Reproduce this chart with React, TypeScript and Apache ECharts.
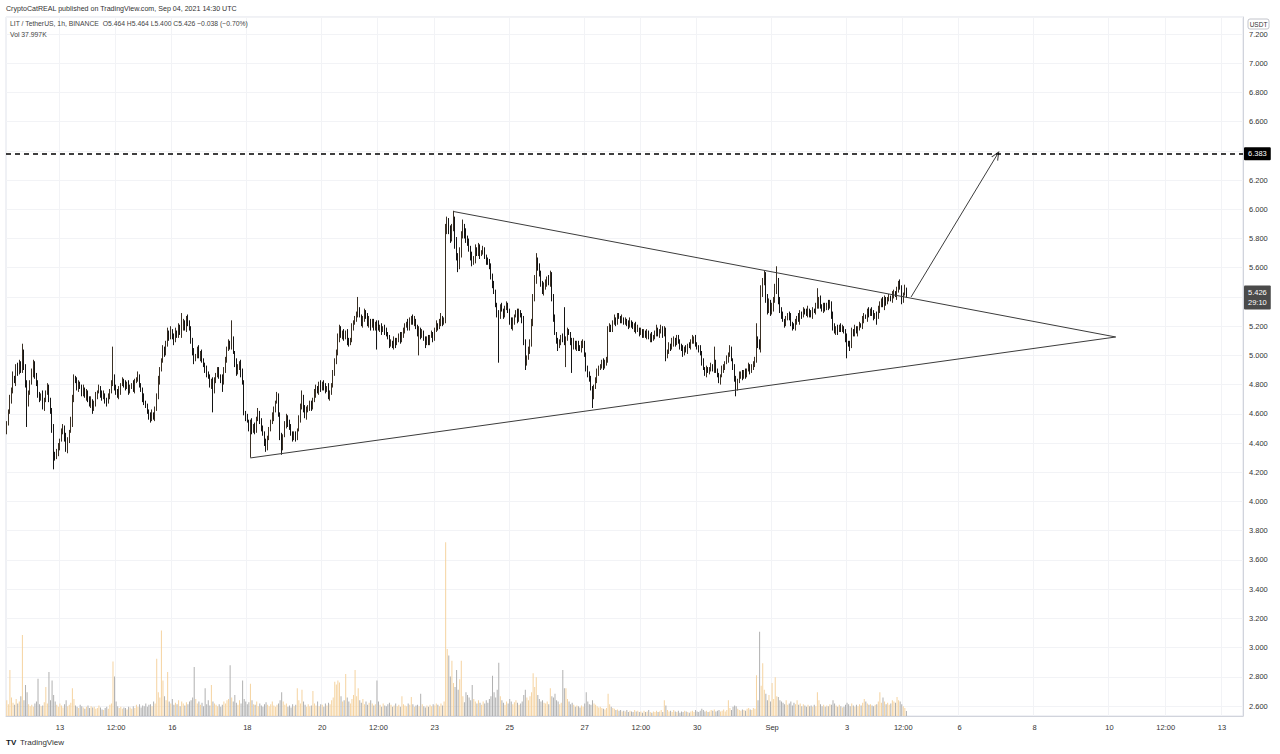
import React, { useEffect, useRef } from "react";
import * as echarts from "echarts";

// ---------- data (hourly candles, LIT/USDT, Binance) ----------
const FIRST_OPEN = 4.49;

const closes = [
  4.53,4.62,4.70,4.76,4.85,4.82,4.92,4.88,4.95,4.90,5.02,4.93,4.80,4.67,4.74,4.82,
  4.88,4.95,4.86,4.80,4.74,4.70,4.72,4.65,4.70,4.74,4.78,4.70,4.62,4.50,4.33,4.30,4.34,4.37,4.42,4.48,
  4.51,4.44,4.35,4.42,4.48,4.54,4.70,4.85,4.82,4.78,4.81,4.78,4.74,4.77,4.72,4.75,4.70,4.66,4.69,4.63,
  4.67,4.72,4.75,4.78,4.74,4.71,4.73,4.69,4.68,4.72,4.76,4.80,4.85,4.79,4.75,4.72,4.76,4.80,4.83,4.80,
  4.78,4.81,4.76,4.78,4.80,4.77,4.82,4.84,4.85,4.80,4.76,4.71,4.68,4.65,4.62,4.59,4.56,4.60,4.58,4.63,
  4.72,4.83,4.90,4.97,5.04,5.01,5.09,5.15,5.12,5.17,5.13,5.10,5.16,5.14,5.20,5.15,5.19,5.22,5.18,5.25,
  5.23,5.18,5.10,5.02,4.97,5.00,5.04,4.99,5.02,4.97,4.93,4.90,4.88,4.85,4.80,4.83,4.76,4.82,4.87,4.90,
  4.86,4.84,4.81,4.90,4.98,5.04,5.08,5.06,5.11,5.02,4.95,4.88,4.92,4.95,4.88,4.81,4.61,4.58,4.55,4.50,
  4.54,4.48,4.52,4.49,4.56,4.61,4.55,4.51,4.46,4.40,4.37,4.43,4.50,4.54,4.58,4.63,4.68,4.72,4.60,4.45,
  4.37,4.45,4.52,4.58,4.54,4.50,4.47,4.43,4.46,4.44,4.49,4.56,4.65,4.72,4.64,4.58,4.62,4.65,4.67,4.64,
  4.70,4.74,4.78,4.75,4.80,4.77,4.81,4.79,4.76,4.78,4.72,4.74,4.80,4.88,4.95,5.02,5.12,5.19,5.13,5.15,
  5.12,5.16,5.10,5.08,5.11,5.19,5.22,5.26,5.28,5.31,5.27,5.22,5.24,5.30,5.27,5.21,5.24,5.20,5.23,5.19,
  5.22,5.21,5.18,5.20,5.17,5.19,5.16,5.15,5.12,5.08,5.09,5.06,5.10,5.08,5.11,5.13,5.10,5.15,5.17,5.20,
  5.22,5.19,5.24,5.26,5.22,5.24,5.19,5.16,5.18,5.13,5.15,5.12,5.08,5.11,5.09,5.13,5.15,5.12,5.17,5.21,
  5.19,5.23,5.26,5.22,5.24,5.86,5.92,5.85,5.81,5.87,5.93,5.78,5.68,5.61,5.70,5.82,5.88,5.84,5.80,5.77,
  5.73,5.68,5.63,5.66,5.72,5.70,5.74,5.69,5.71,5.72,5.68,5.65,5.63,5.61,5.55,5.48,5.43,5.35,5.29,5.27,
  5.33,5.31,5.28,5.32,5.34,5.31,5.24,5.19,5.23,5.27,5.29,5.25,5.30,5.27,5.24,5.10,4.95,4.98,5.03,5.09,
  5.22,5.38,5.52,5.65,5.60,5.56,5.50,5.43,5.47,5.50,5.52,5.49,5.56,5.40,5.25,5.15,5.10,5.06,5.09,5.13,
  5.11,5.08,5.12,5.16,5.15,5.10,5.06,5.09,5.05,5.08,5.06,5.04,5.07,5.09,5.00,4.92,4.87,4.83,4.78,4.72,
  4.78,4.84,4.88,4.91,4.93,4.95,4.92,4.96,4.97,5.17,5.20,5.18,5.22,5.25,5.23,5.27,5.26,5.24,5.25,5.22,
  5.24,5.22,5.20,5.23,5.21,5.19,5.21,5.17,5.18,5.15,5.17,5.14,5.16,5.13,5.15,5.12,5.14,5.11,5.13,5.15,
  5.18,5.14,5.16,5.19,5.15,5.17,4.99,5.03,5.07,5.05,5.09,5.11,5.08,5.12,5.10,5.06,5.04,5.02,5.05,5.03,
  5.07,5.06,5.09,5.11,5.12,5.08,5.05,5.04,5.02,4.96,4.91,4.88,4.91,4.89,4.90,4.93,4.91,4.95,4.90,4.86,
  4.83,4.86,4.90,4.92,4.95,4.98,5.01,5.04,4.97,4.92,4.85,4.78,4.82,4.86,4.88,4.85,4.89,4.87,4.90,4.93,
  4.89,4.92,4.95,4.97,5.11,5.08,5.06,5.43,5.50,5.54,5.40,5.31,5.36,5.30,5.33,5.38,5.45,5.50,5.38,5.31,
  5.27,5.24,5.22,5.25,5.28,5.26,5.22,5.20,5.19,5.23,5.26,5.24,5.29,5.27,5.31,5.30,5.28,5.31,5.29,5.27,
  5.31,5.30,5.33,5.35,5.38,5.34,5.31,5.34,5.32,5.35,5.33,5.36,5.28,5.19,5.16,5.19,5.17,5.20,5.18,5.19,
  5.16,5.12,5.09,5.08,5.06,5.17,5.15,5.18,5.16,5.19,5.21,5.20,5.24,5.27,5.26,5.30,5.28,5.31,5.29,5.27,
  5.28,5.26,5.31,5.35,5.38,5.34,5.38,5.36,5.39,5.40,5.38,5.41,5.43,5.41,5.45,5.48,5.46,5.38,5.42,5.464,5.426,
];

// upper wick above max(open, close), in cents
const upperWicks = [
  2,1,3,2,4,1,2,3,2,1,6,2,1,3,2,1,
  3,2,1,2,3,1,2,4,1,2,3,2,1,2,3,1,2,3,1,2,
  2,1,3,2,1,4,3,2,1,3,2,1,2,3,1,2,1,2,3,1,
  2,3,1,2,1,2,3,1,2,2,1,3,21,2,1,2,3,1,2,1,
  3,1,2,2,1,3,2,1,4,2,1,2,3,1,2,1,2,3,1,2,
  2,3,2,1,3,2,1,4,2,3,1,2,3,1,2,1,10,3,2,2,
  3,1,2,2,3,1,2,3,1,2,1,2,3,1,2,1,2,3,1,2,
  2,1,3,2,1,2,3,2,13,2,1,3,2,1,2,3,2,1,2,1,
  2,3,1,2,2,3,1,2,1,2,3,2,1,2,3,2,1,3,2,1,
  2,1,3,2,1,2,3,1,2,2,1,3,2,4,1,2,3,1,2,2,
  1,3,2,1,2,3,1,2,2,1,3,2,1,2,3,2,3,2,1,2,
  3,1,2,2,1,3,2,1,2,9,2,1,3,2,1,2,3,1,2,2,
  1,2,3,1,2,1,2,3,1,2,2,1,3,2,1,2,3,1,2,2,
  1,3,2,1,2,3,1,2,2,1,3,2,1,2,3,1,2,1,2,3,
  1,2,3,1,2,4,3,2,4,3,6,2,3,2,4,3,5,2,3,2,
  3,2,3,2,4,2,3,2,1,3,2,1,2,3,2,1,3,2,1,2,
  2,3,1,2,3,2,1,2,3,1,2,3,2,1,2,3,1,2,3,2,
  3,4,3,5,2,3,2,1,3,2,2,3,2,1,2,3,1,2,2,1,
  2,22,1,3,2,1,2,3,1,2,2,1,3,2,1,2,1,2,3,1,
  2,1,3,2,1,2,3,1,2,3,2,1,2,3,1,2,2,1,3,1,
  2,1,2,3,1,2,1,2,3,1,2,1,2,1,3,2,1,2,1,2,
  3,1,2,2,1,3,2,1,2,1,3,2,1,2,2,1,2,3,1,2,
  1,2,2,3,1,2,1,2,3,1,2,1,2,1,2,2,1,11,2,1,
  2,1,3,2,1,2,1,3,2,1,2,1,2,3,1,2,1,2,1,2,
  1,2,1,2,11,2,3,5,3,4,3,2,3,2,3,2,4,11,3,2,
  2,3,1,2,1,2,3,1,2,2,1,3,2,1,2,1,2,3,1,2,
  2,1,3,11,2,3,1,2,2,1,3,2,1,2,3,1,2,1,2,2,
  1,2,3,1,2,2,1,3,2,1,2,1,3,2,1,2,3,1,2,2,
  1,2,3,2,1,2,3,2,1,2,1,3,2,1,2,3,4,2,1,2,0,
];

// lower wick below min(open, close), in cents
const lowerWicks = [
  3,1,2,3,2,1,3,2,1,2,2,3,2,16,2,1,
  2,3,2,1,3,2,1,2,3,2,1,2,2,3,11,2,1,3,2,1,
  2,3,1,2,2,1,3,2,1,2,3,1,2,2,1,3,2,1,2,3,
  1,2,2,1,3,2,1,2,3,1,2,2,1,3,2,1,2,3,1,2,
  2,1,3,2,1,2,3,1,2,2,1,3,2,1,2,3,2,1,2,3,
  1,2,3,1,2,2,1,3,2,1,2,3,1,2,2,1,3,2,1,2,
  3,1,2,2,3,1,2,1,3,2,1,2,3,1,2,3,15,2,1,2,
  2,3,6,1,2,3,1,2,2,1,3,2,1,2,3,1,2,3,1,2,
  20,2,1,3,2,1,2,3,1,2,3,2,1,2,1,3,2,1,2,3,
  5,2,1,2,3,1,2,2,1,3,2,1,2,2,3,1,2,1,3,2,
  1,2,3,1,2,2,1,3,2,1,2,3,1,2,2,1,2,3,1,2,
  2,1,3,2,1,2,2,1,3,2,1,2,3,1,2,1,2,3,1,2,
  2,17,1,2,3,1,2,2,1,3,2,1,2,3,1,2,2,1,3,2,
  1,2,2,3,1,2,1,3,16,2,1,2,3,1,2,2,1,3,2,1,
  2,1,3,2,1,2,3,2,4,3,2,5,3,4,2,3,2,4,3,2,
  2,3,2,1,3,2,2,3,1,2,2,3,1,2,3,2,1,2,3,32,
  2,1,3,2,1,2,3,1,2,2,1,3,2,1,2,3,5,2,1,2,
  3,2,1,3,2,2,3,1,2,2,3,1,2,3,2,1,2,3,1,2,
  2,1,16,2,1,3,18,2,1,2,3,1,2,2,1,3,2,1,2,8,
  2,1,3,2,1,2,2,1,3,2,1,2,2,1,3,2,1,2,2,1,
  1,2,2,1,2,1,3,2,1,2,1,2,2,1,2,1,3,2,1,2,
  2,1,2,1,3,2,3,1,2,2,1,3,2,1,2,2,1,3,2,1,
  2,1,2,1,3,2,1,2,2,3,1,2,3,1,2,1,2,3,2,1,
  2,3,1,2,2,1,3,2,1,2,3,6,2,1,2,2,1,3,2,1,
  2,1,2,3,2,3,2,4,3,2,4,3,2,3,2,3,2,3,3,2,
  2,1,3,2,1,2,2,3,1,2,2,1,3,2,1,2,1,2,3,1,
  2,1,2,1,3,2,1,2,2,1,2,1,3,2,1,2,3,1,2,2,
  1,3,11,2,3,1,2,2,1,3,2,1,2,2,1,3,2,1,2,3,
  2,5,1,2,2,1,3,2,1,2,1,2,2,1,3,2,1,3,2,1,3,
];

// volume per candle, thousands
const volumesK = [
  120,90,350,140,100,85,130,95,110,150,615,120,235,180,90,75,
  85,70,95,110,283,90,75,80,105,220,95,335,120,270,160,110,85,70,95,80,
  65,90,120,75,85,100,210,130,80,70,60,85,75,65,55,70,80,60,75,65,
  70,55,60,80,65,50,45,60,70,55,85,95,415,300,110,75,60,70,55,65,
  60,50,70,65,55,75,60,85,70,90,65,80,75,95,70,85,90,75,110,95,
  435,180,140,650,270,150,120,335,110,95,130,85,100,90,120,75,110,95,80,105,
  90,110,120,140,372,130,95,110,85,100,75,210,90,120,80,235,110,95,85,75,
  90,70,85,110,95,120,130,385,140,110,160,100,85,120,95,270,130,110,90,105,
  245,120,90,85,110,75,95,80,70,90,105,85,75,90,110,80,70,85,95,120,
  180,110,85,95,70,80,65,90,75,85,210,120,95,200,110,85,70,90,75,80,
  190,95,80,110,75,90,85,70,95,80,100,90,120,140,260,240,270,255,150,110,
  120,320,140,110,95,130,160,350,150,210,120,100,130,90,110,85,100,120,95,80,
  90,270,110,85,70,95,80,75,90,100,85,70,80,95,75,85,70,150,90,80,
  75,95,85,145,90,70,80,85,75,170,90,75,65,80,70,85,75,90,80,95,
  85,75,95,80,110,1320,510,460,300,420,250,220,350,200,280,420,150,105,180,160,
  140,120,235,130,110,95,120,100,85,110,95,120,100,130,150,305,180,140,200,405,
  150,120,100,85,110,95,130,110,90,105,120,100,85,95,110,160,200,140,120,150,
  180,325,220,295,160,130,110,120,100,95,110,90,210,150,140,170,120,110,90,100,
  350,210,210,130,110,90,100,85,70,80,75,65,80,70,95,180,110,90,85,120,
  95,85,75,65,70,60,55,50,60,170,90,70,60,55,45,50,40,45,35,40,
  35,45,30,40,35,30,45,35,40,30,35,25,40,30,35,45,30,25,35,30,
  40,30,35,45,30,120,80,45,35,40,30,45,35,30,40,25,35,30,40,35,
  30,25,35,40,30,45,35,30,40,55,45,35,40,30,35,45,40,50,35,40,
  45,35,40,50,35,45,120,60,45,70,80,75,55,45,40,50,45,40,55,60,
  50,45,60,55,310,120,640,230,400,200,170,120,160,110,250,130,295,150,145,120,
  110,100,90,120,85,95,110,80,100,90,120,85,95,75,90,80,70,85,75,80,
  70,85,75,180,120,90,75,85,70,80,75,90,85,120,95,80,70,85,75,65,
  70,85,100,90,75,95,80,70,85,75,90,80,100,130,110,95,85,90,80,75,
  85,90,110,180,100,140,110,90,100,85,95,120,110,100,145,120,110,90,75,60,38,
];

// time axis: first candle and number of hourly slots shown
const FIRST_CANDLE = "2021-08-11 14:00";
const AXIS_HOURS = 792;

const tickLabels: [string, string][] = [
  ["2021-08-13 00:00", "13"],
  ["2021-08-14 12:00", "12:00"],
  ["2021-08-16 00:00", "16"],
  ["2021-08-18 00:00", "18"],
  ["2021-08-20 00:00", "20"],
  ["2021-08-21 12:00", "12:00"],
  ["2021-08-23 00:00", "23"],
  ["2021-08-25 00:00", "25"],
  ["2021-08-27 00:00", "27"],
  ["2021-08-28 12:00", "12:00"],
  ["2021-08-30 00:00", "30"],
  ["2021-09-01 00:00", "Sep"],
  ["2021-09-03 00:00", "3"],
  ["2021-09-04 12:00", "12:00"],
  ["2021-09-06 00:00", "6"],
  ["2021-09-08 00:00", "8"],
  ["2021-09-10 00:00", "10"],
  ["2021-09-11 12:00", "12:00"],
  ["2021-09-13 00:00", "13"],
];

// drawings
const triangleUpper: [string, number][] = [["2021-08-23 12:00", 5.985], ["2021-09-10 04:00", 5.126]];
const triangleLower: [string, number][] = [["2021-08-18 02:00", 4.298], ["2021-09-10 04:00", 5.126]];
const targetArrow: [string, number][] = [["2021-09-04 17:00", 5.40], ["2021-09-07 00:00", 6.372]];
const targetLevel = 6.383;
const lastPrice = 5.426;
const countdown = "29:10";

const FONT = "'Liberation Sans', 'DejaVu Sans', sans-serif";

function fmtHour(ms: number): string {
  const d = new Date(ms);
  const p = (n: number) => String(n).padStart(2, "0");
  return `${d.getUTCFullYear()}-${p(d.getUTCMonth() + 1)}-${p(d.getUTCDate())} ${p(d.getUTCHours())}:00`;
}

function parseHour(s: string): number {
  const [date, time] = s.split(" ");
  const [y, m, d] = date.split("-").map(Number);
  const h = Number(time.split(":")[0]);
  return Date.UTC(y, m - 1, d, h);
}

export default function App() {
  const ref = useRef<HTMLDivElement>(null);

  useEffect(() => {
    document.body.style.margin = "0";
    if (!ref.current) return;
    const chart = echarts.init(ref.current, undefined, { renderer: "svg" });

    const start = parseHour(FIRST_CANDLE);
    const categories: string[] = [];
    for (let i = 0; i < AXIS_HOURS; i++) categories.push(fmtHour(start + i * 3600000));

    const labelMap: Record<string, string> = {};
    tickLabels.forEach(([t, l]) => (labelMap[t] = l));
    const tickIdx = new Set<number>();
    categories.forEach((c, i) => {
      if (labelMap[c] !== undefined) tickIdx.add(i);
    });

    const n = Math.min(closes.length, upperWicks.length, lowerWicks.length, volumesK.length);
    const ohlc: number[][] = [];
    const vols: any[] = [];
    for (let i = 0; i < n; i++) {
      const o = i === 0 ? FIRST_OPEN : closes[i - 1];
      const c = closes[i];
      const hi = Math.max(o, c) + upperWicks[i] / 100;
      const lo = Math.min(o, c) - lowerWicks[i] / 100;
      ohlc.push([o, c, lo, hi]);
      vols.push({
        value: volumesK[i],
        itemStyle: { color: c >= o ? "#f5d3a0" : "#b0b0b0" },
      });
    }

    const hiddenPriceLabels = [6.4, 5.4];

    const thin = { color: "#3c3c3c", width: 1, type: "solid" as const };

    chart.setOption({
      animation: false,
      backgroundColor: "#ffffff",
      textStyle: { fontFamily: FONT },
      grid: [
        { left: 6, right: 37, top: 17, bottom: 38, show: true, borderColor: "#e0e3eb", borderWidth: 1 },
        { left: 6, right: 37, top: 541, bottom: 38 },
      ],
      xAxis: [
        {
          type: "category",
          gridIndex: 0,
          data: categories,
          boundaryGap: true,
          axisLine: { show: true, lineStyle: { color: "#d1d4dc" } },
          axisTick: { show: false },
          axisLabel: {
            interval: (i: number) => tickIdx.has(i),
            formatter: (v: string) => labelMap[v] ?? "",
            fontSize: 7.5,
            color: "#333",
            margin: 7,
            fontFamily: FONT,
          },
          splitLine: {
            show: true,
            interval: (i: number) => tickIdx.has(i),
            lineStyle: { color: "#f2f3f6" },
          },
        },
        {
          type: "category",
          gridIndex: 1,
          data: categories,
          boundaryGap: true,
          show: false,
        },
      ],
      yAxis: [
        {
          type: "value",
          gridIndex: 0,
          position: "right",
          min: 2.5316,
          max: 7.3164,
          splitNumber: 24,
          minInterval: 0.2,
          maxInterval: 0.2,
          axisLine: { show: true, lineStyle: { color: "#d1d4dc" } },
          axisTick: { show: false },
          axisLabel: {
            fontSize: 7.5,
            color: "#333",
            margin: 6,
            fontFamily: FONT,
            showMinLabel: false,
            showMaxLabel: false,
            formatter: (v: number) =>
              hiddenPriceLabels.some((h) => Math.abs(h - v) < 1e-6) ? "" : v.toFixed(3),
          },
          splitLine: { show: true, lineStyle: { color: "#f2f3f6" } },
        },
        {
          type: "value",
          gridIndex: 1,
          min: 0,
          max: 1330,
          show: false,
          splitLine: { show: false },
        },
      ],
      series: [
        {
          type: "bar",
          xAxisIndex: 1,
          yAxisIndex: 1,
          data: vols,
          barWidth: 1,
          z: 1,
          silent: true,
        },
        {
          type: "candlestick",
          xAxisIndex: 0,
          yAxisIndex: 0,
          data: ohlc,
          barWidth: 1,
          z: 3,
          silent: true,
          itemStyle: {
            color: "#a8906a",
            color0: "#141414",
            borderColor: "#3a3024",
            borderColor0: "#141414",
            borderWidth: 1,
          },
          markLine: {
            silent: true,
            animation: false,
            symbol: ["none", "none"],
            label: { show: false },
            lineStyle: thin,
            emphasis: { disabled: true },
            data: [
              [
                { coord: triangleUpper[0], lineStyle: thin },
                { coord: triangleUpper[1] },
              ],
              [
                { coord: triangleLower[0], lineStyle: thin },
                { coord: triangleLower[1] },
              ],
              [
                { coord: targetArrow[0], symbol: "none", lineStyle: thin },
                {
                  coord: targetArrow[1],
                  symbol: "path://M0 10 L5 0 L10 10 L8.6 10 L5 2.6 L1.4 10 Z",
                  symbolSize: [8, 9],
                },
              ],
              {
                yAxis: targetLevel,
                lineStyle: { color: "#000", width: 1.5, type: [5, 4] },
                label: {
                  show: true,
                  position: "end",
                  distance: 1,
                  formatter: targetLevel.toFixed(3),
                  backgroundColor: "#000",
                  color: "#fff",
                  fontSize: 7.5,
                  fontFamily: FONT,
                  padding: [3, 4, 2, 4],
                  borderRadius: 1,
                },
              },
              {
                yAxis: lastPrice,
                lineStyle: { color: "rgba(0,0,0,0)", width: 0 },
                label: {
                  show: true,
                  position: "end",
                  distance: 1,
                  formatter: `${lastPrice.toFixed(3)}\n${countdown}`,
                  backgroundColor: "#4a4a4a",
                  color: "#ffffff",
                  fontSize: 7.5,
                  lineHeight: 10,
                  fontFamily: FONT,
                  padding: [2, 4, 2, 4],
                  borderRadius: 1,
                  offset: [0, 5],
                },
              },
            ],
          },
        },
      ],
      graphic: [
        {
          type: "text",
          left: 6,
          top: 5,
          z: 100,
          style: {
            text: "CryptoCatREAL published on TradingView.com, Sep 04, 2021 14:30 UTC",
            fontSize: 7.1,
            fill: "#333",
            fontFamily: FONT,
          },
        },
        {
          type: "text",
          left: 10,
          top: 20,
          z: 100,
          style: {
            text: "LIT / TetherUS, 1h, BINANCE  O5.464 H5.464 L5.400 C5.426 −0.038 (−0.70%)",
            fontSize: 6.8,
            fill: "#444",
            fontFamily: FONT,
          },
        },
        {
          type: "text",
          left: 10,
          top: 31,
          z: 100,
          style: { text: "Vol 37.997K", fontSize: 6.8, fill: "#444", fontFamily: FONT },
        },
        {
          type: "rect",
          z: 100,
          shape: { x: 1248, y: 19, width: 21, height: 10, r: 2 },
          style: { fill: "#fff", stroke: "#b2b5be", lineWidth: 0.8 },
        },
        {
          type: "text",
          z: 101,
          x: 1258.5,
          y: 24,
          style: {
            text: "USDT",
            fontSize: 6.5,
            fill: "#333",
            fontFamily: FONT,
            align: "center",
            verticalAlign: "middle",
          },
        },
        {
          type: "text",
          left: 6,
          top: 738,
          style: { text: "TV", fontSize: 8, fontWeight: 900, fill: "#131722", fontFamily: FONT },
        },
        {
          type: "text",
          left: 20,
          top: 738,
          style: { text: "TradingView", fontSize: 8, fill: "#333", fontFamily: FONT },
        },
      ],
    });

    return () => chart.dispose();
  }, []);

  return <div ref={ref} style={{ width: 1280, height: 754 }} />;
}
